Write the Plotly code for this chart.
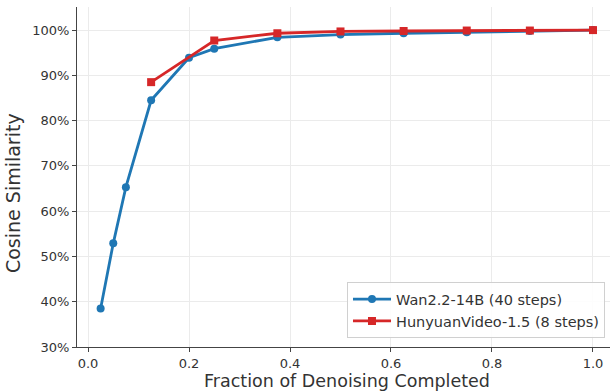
import plotly.graph_objects as go

wan_x = [0.025, 0.05, 0.075, 0.125, 0.2, 0.25, 0.375, 0.5, 0.625, 0.75, 0.875, 1.0]
wan_y = [38.5, 52.9, 65.3, 84.5, 93.9, 95.9, 98.4, 99.0, 99.3, 99.5, 99.8, 100.0]
hy_x = [0.125, 0.25, 0.375, 0.5, 0.625, 0.75, 0.875, 1.0]
hy_y = [88.5, 97.7, 99.3, 99.7, 99.8, 99.9, 99.9, 100.0]
x_ticks = [0.0, 0.2, 0.4, 0.6, 0.8, 1.0]
y_ticks = [30, 40, 50, 60, 70, 80, 90, 100]
x_title = "Fraction of Denoising Completed"
y_title = "Cosine Similarity"

font = "DejaVu Sans"
fig = go.Figure()
fig.add_trace(go.Scatter(x=wan_x, y=wan_y, mode="lines+markers", name="Wan2.2-14B (40 steps)",
                         line=dict(color="#1f77b4", width=2.8),
                         marker=dict(symbol="circle", size=8, color="#1f77b4")))
fig.add_trace(go.Scatter(x=hy_x, y=hy_y, mode="lines+markers", name="HunyuanVideo-1.5 (8 steps)",
                         line=dict(color="#d62728", width=2.8),
                         marker=dict(symbol="square", size=8, color="#d62728")))

axis_common = dict(showgrid=True, gridcolor="#ebebeb", gridwidth=1, zeroline=False,
                   showline=True, linecolor="#444444", linewidth=1.2,
                   ticks="outside", ticklen=4, tickcolor="#444444", tickwidth=1.2,
                   tickfont=dict(family=font, size=13, color="#333333"),
                   automargin=False)
fig.update_layout(
    width=610, height=391,
    margin=dict(l=77, r=0, t=7, b=44),
    paper_bgcolor="white", plot_bgcolor="white",
    font=dict(family=font, color="#333333"),
    xaxis=dict(range=[-0.0218, 1.0337], tickvals=x_ticks,
               ticktext=[f"{v:.1f}" for v in x_ticks], **axis_common),
    yaxis=dict(range=[30, 105.1], tickvals=y_ticks,
               ticktext=[f"{v}%" for v in y_ticks], **axis_common),
    legend=dict(x=0.9906, y=0.026, xanchor="right", yanchor="bottom",
                bgcolor="rgba(255,255,255,0.9)", bordercolor="#d0d0d0", borderwidth=1,
                font=dict(family=font, size=14.5, color="#333333"), tracegroupgap=0,
                itemwidth=38),
    showlegend=True,
    annotations=[
        dict(text=x_title, xref="paper", yref="paper", x=0.5066, y=-0.1,
             xanchor="center", yanchor="middle", showarrow=False,
             font=dict(family=font, size=17.5, color="#333333")),
        dict(text=y_title, xref="paper", yref="paper", x=-0.12, y=0.453,
             xanchor="center", yanchor="middle", showarrow=False, textangle=-90,
             font=dict(family=font, size=19, color="#333333")),
    ],
)
fig.write_html("out.html")
